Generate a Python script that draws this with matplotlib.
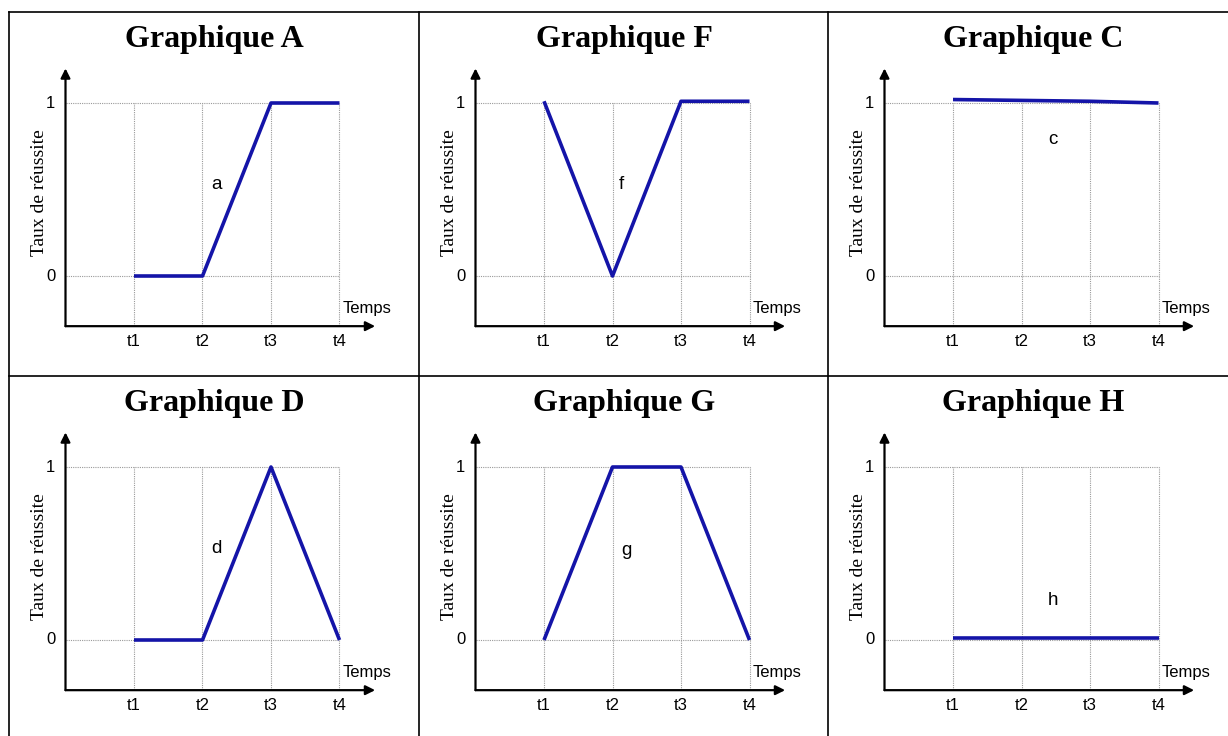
import matplotlib
matplotlib.use("Agg")
import matplotlib.pyplot as plt
from matplotlib.lines import Line2D

# ---- data ----
times = [1, 2, 3, 4]
time_labels = ["t1", "t2", "t3", "t4"]
y_ticks = [0, 1]
y_tick_labels = ["0", "1"]

titles = ["Graphique A", "Graphique F", "Graphique C",
          "Graphique D", "Graphique G", "Graphique H"]
curve_names = ["a", "f", "c", "d", "g", "h"]
values_a = [0, 0, 1, 1]
values_f = [1.01, 0, 1.01, 1.01]
values_c = [1.02, 1.015, 1.01, 1.0]
values_d = [0, 0, 1, 0]
values_g = [0, 1, 1, 0]
values_h = [0.01, 0.01, 0.01, 0.01]
series = [values_a, values_f, values_c, values_d, values_g, values_h]
name_pos = [(2.2, 0.53), (2.13, 0.53), (2.46, 0.79),
            (2.2, 0.53), (2.21, 0.52), (2.46, 0.23)]

W, H = 1228, 736
fig = plt.figure(figsize=(W / 100, H / 100), dpi=100)

col_edges = [9, 419, 828, 1228]
row_edges = [12, 376, 736]

BLUE = "#1414a8"
GRID = "#9a9a9a"
PXU = 68.5   # px per time unit
PYU = 173.0  # px per rate unit

for i in range(6):
    r, c = divmod(i, 3)
    x0, x1 = col_edges[c], col_edges[c + 1]
    y0, y1 = row_edges[r], row_edges[r + 1]
    cw, ch = x1 - x0, y1 - y0
    ax = fig.add_axes([x0 / W, 1 - y1 / H, cw / W, ch / H])
    ax.set_xlim(1 - 125 / PXU, 1 + (cw - 125) / PXU)
    ax.set_ylim(1 - (ch - 91) / PYU, 1 + 91 / PYU)
    ax.axis("off")

    x_axis_y = -0.29
    # grid lines
    for t in times:
        ax.plot([t, t], [x_axis_y, 1], color=GRID, lw=0.8,
                linestyle=(0, (1, 1)), zorder=1)
    for v in y_ticks:
        ax.plot([0, times[-1]], [v, v], color=GRID, lw=0.8,
                linestyle=(0, (1, 1)), zorder=1)
    # axes arrows
    ax.annotate("", xy=(4.52, x_axis_y), xytext=(0, x_axis_y),
                arrowprops=dict(arrowstyle="-|>", color="black", lw=1.6,
                                mutation_scale=14, shrinkA=0, shrinkB=0),
                annotation_clip=False)
    ax.annotate("", xy=(0, 1.2), xytext=(0, x_axis_y),
                arrowprops=dict(arrowstyle="-|>", color="black", lw=1.6,
                                mutation_scale=14, shrinkA=0, shrinkB=0),
                annotation_clip=False)
    # tick labels
    for t, lab in zip(times, time_labels):
        ax.text(t, -0.38, lab, ha="center", va="center", fontsize=12,
                family="Liberation Sans")
    for v, lab in zip(y_ticks, y_tick_labels):
        ax.text(-0.15, v, lab, ha="right", va="center", fontsize=12,
                family="Liberation Sans")
    ax.text(4.05, -0.185, "Temps", ha="left", va="center", fontsize=12,
            family="Liberation Sans")
    ax.text(-0.38, 0.48, "Taux de réussite", ha="center", va="center",
            rotation=90, fontsize=14, family="Liberation Serif")
    # curve
    ax.plot(times, series[i], color=BLUE, lw=2.6, solid_capstyle="butt",
            zorder=3)
    ax.text(name_pos[i][0], name_pos[i][1], curve_names[i], ha="center",
            va="center", fontsize=13.5, family="Liberation Sans")
    # title
    ax.text(205 / cw, 1 - 27 / ch, titles[i], transform=ax.transAxes,
            ha="center", va="center", fontsize=23, fontweight="bold",
            family="Liberation Serif")

# table borders
def hline(y, xa, xb):
    fig.add_artist(Line2D([xa / W, xb / W], [1 - y / H, 1 - y / H],
                          color="black", lw=1.2))

def vline(x, ya, yb):
    fig.add_artist(Line2D([x / W, x / W], [1 - ya / H, 1 - yb / H],
                          color="black", lw=1.2))

hline(12, 9, W)
hline(376, 9, W)
for x in col_edges[:3]:
    vline(x, 12, H)

fig.savefig("out.png", dpi=100)
